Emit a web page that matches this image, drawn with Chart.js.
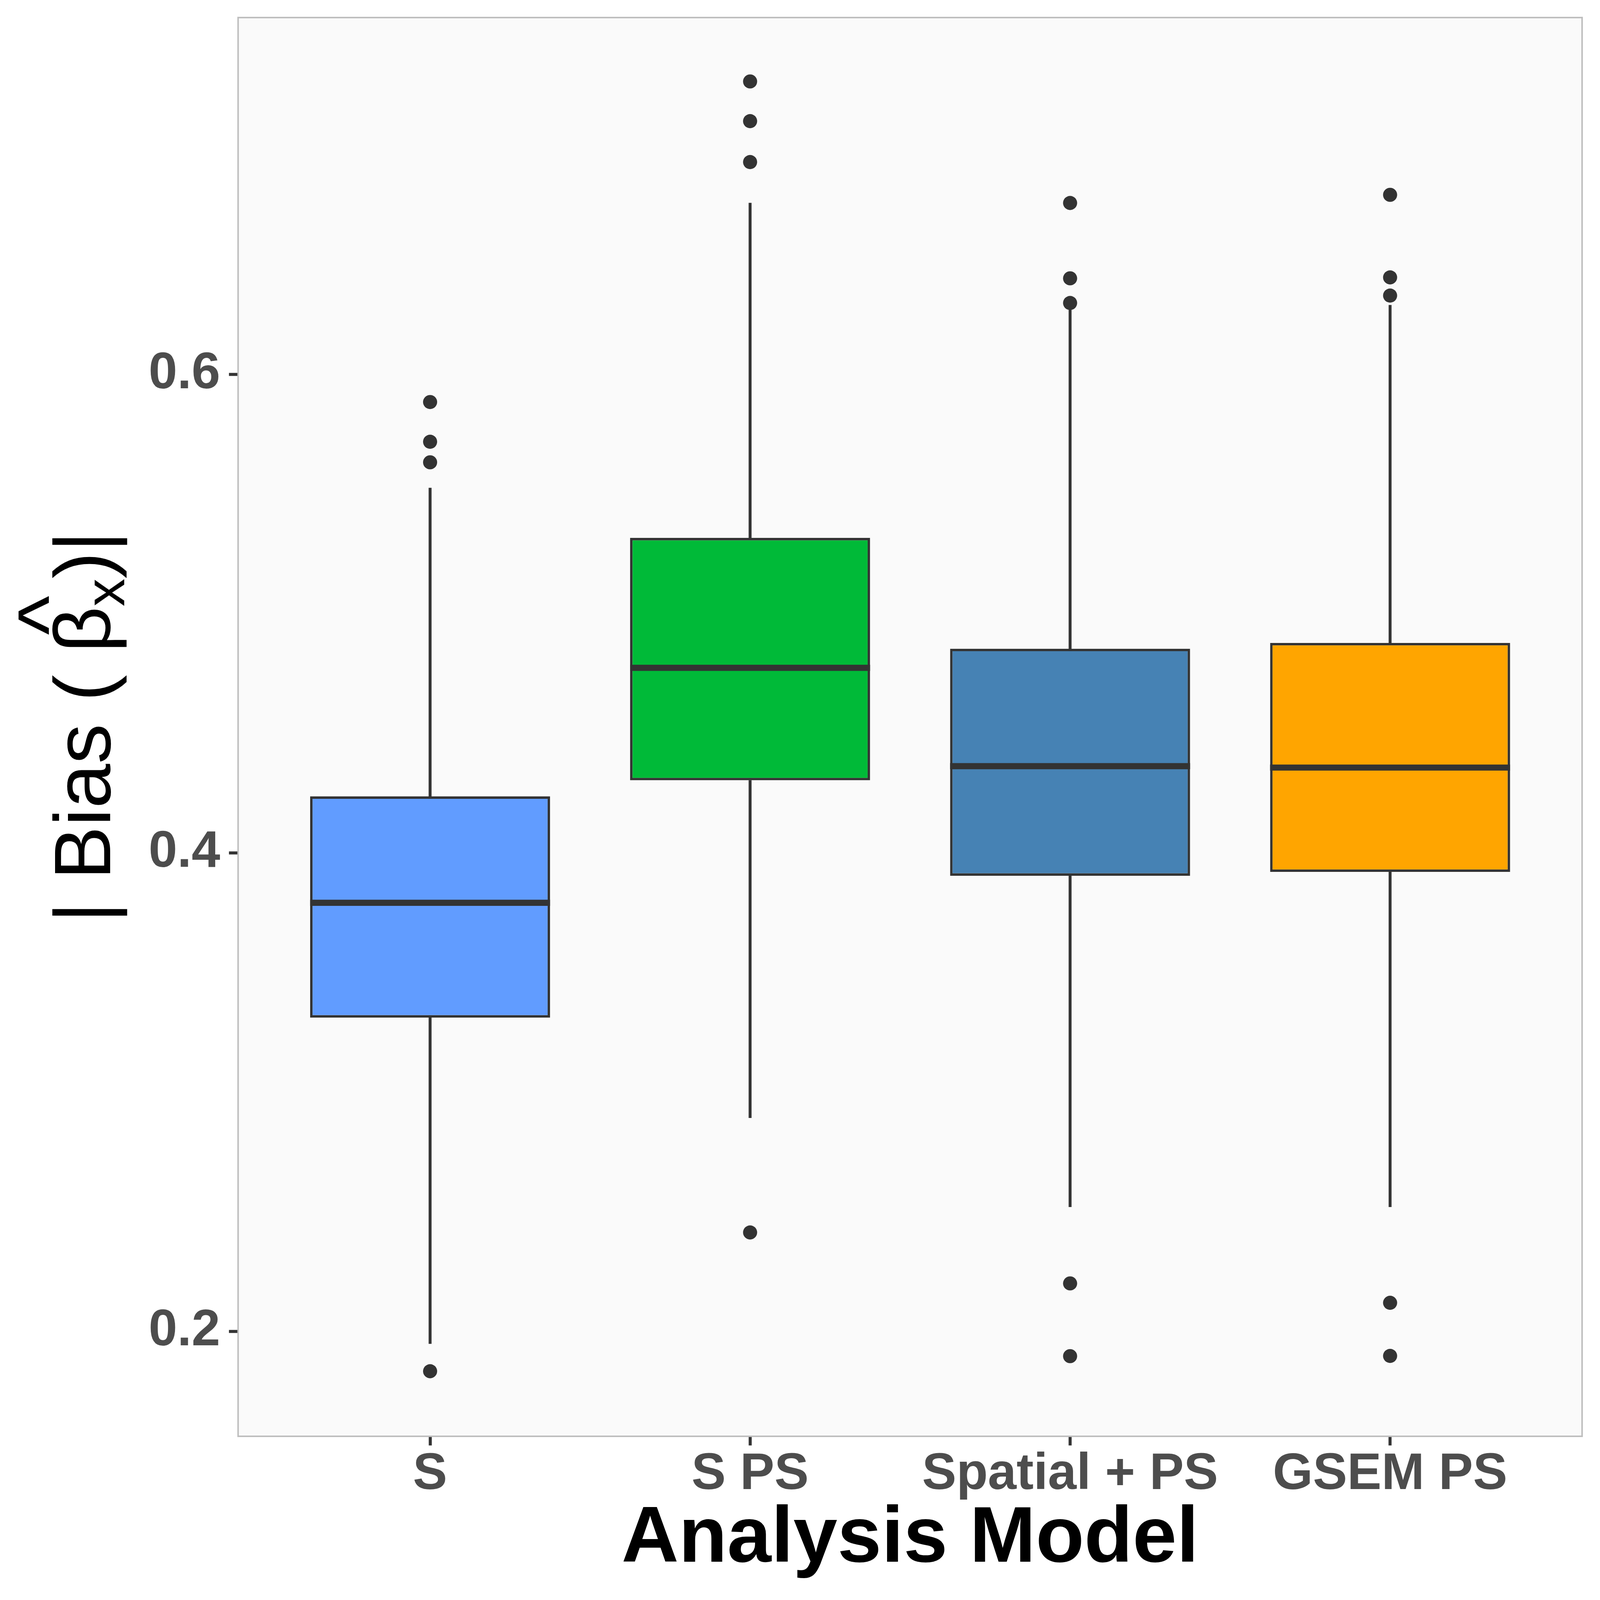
<!DOCTYPE html>
<html>
<head>
<meta charset="utf-8">
<script src="https://cdn.jsdelivr.net/npm/chart.js@4.4.1/dist/chart.umd.min.js"></script>
<style>
  html, body { margin: 0; padding: 0; background: #ffffff; overflow: hidden; }
</style>
</head>
<body>
<canvas id="boxChart"></canvas>
<script>
// kategori model analisis
const models = ['S', 'S PS', 'Spatial + PS', 'GSEM PS'];
const boxColors = ['#619CFF', '#00BA38', '#4682B4', '#FFA500'];

// ringkasan boxplot
const whiskerLow = [0.1948, 0.2892, 0.2520, 0.2520];
const q1Values   = [0.3311, 0.4303, 0.3904, 0.3920];
const medians    = [0.3791, 0.4773, 0.4362, 0.4356];
const q3Values   = [0.4236, 0.5316, 0.4853, 0.4877];
const whiskerHigh = [0.5525, 0.6716, 0.6281, 0.6289];

// titik pencilan per model
const outliers = [
  [0.5884, 0.5718, 0.5632, 0.1833],
  [0.7224, 0.7058, 0.6887, 0.2413],
  [0.6716, 0.6401, 0.6298, 0.2200, 0.1896],
  [0.6750, 0.6405, 0.6329, 0.2119, 0.1897]
];

const yTicks = [0.2, 0.4, 0.6];
const yMin = 0.1561, yMax = 0.7491;

// ukuran acuan 4200 x 4193; semua ukuran diskalakan ke viewport sebenarnya
const W = window.innerWidth || 4200;
const H = window.innerHeight || 4193;
const kx = W / 4200, ky = H / 4193, k = (kx + ky) / 2;
const sx = v => v * kx;
const sy = v => v * ky;
const sk = v => v * k;

const canvas = document.getElementById('boxChart');
canvas.width = W;
canvas.height = H;

// buang padding otomatis Chart.js supaya area plot persis di posisi yang diinginkan
function noPadding(s) {
  s.paddingLeft = 0; s.paddingRight = 0; s.paddingTop = 0; s.paddingBottom = 0;
}

// ---- plugin: latar panel, garis median, bingkai panel, judul sumbu y ----
const panelPlugin = {
  id: 'panel',
  beforeDatasetsDraw(chart) {
    const { ctx, chartArea: a } = chart;
    ctx.save();
    ctx.fillStyle = '#FAFAFA';
    ctx.fillRect(a.left, a.top, a.right - a.left, a.bottom - a.top);
    ctx.restore();
  },
  afterDatasetsDraw(chart) {
    const { ctx, chartArea: a } = chart;
    const xs = chart.scales.x, ys = chart.scales.y;
    ctx.save();
    // median
    ctx.strokeStyle = '#333333';
    ctx.lineWidth = sy(16);
    ctx.lineCap = 'butt';
    medians.forEach((m, i) => {
      const y = ys.getPixelForValue(m);
      ctx.beginPath();
      ctx.moveTo(xs.getPixelForValue(i + 1 - 0.375), y);
      ctx.lineTo(xs.getPixelForValue(i + 1 + 0.375), y);
      ctx.stroke();
    });
    // bingkai panel
    ctx.strokeStyle = '#BEBEBE';
    ctx.lineWidth = sk(4);
    ctx.strokeRect(a.left, a.top, a.right - a.left, a.bottom - a.top);
    ctx.restore();
  },
  afterDraw(chart) {
    const { ctx, chartArea: a } = chart;
    const cy = (a.top + a.bottom) / 2;
    const pre = '| Bias ( ', beta = '\u03B2', sub = 'x', post = ')|';
    const big = "210px 'Liberation Sans', Arial, sans-serif";
    const small = "146px 'Liberation Sans', Arial, sans-serif";
    ctx.save();
    ctx.translate(sx(289), cy);
    ctx.scale(kx, ky);
    ctx.rotate(-Math.PI / 2);
    ctx.fillStyle = '#000000';
    ctx.textAlign = 'left';
    ctx.textBaseline = 'alphabetic';
    ctx.font = big;
    const wPre = ctx.measureText(pre).width;
    const mBeta = ctx.measureText(beta);
    const wPost = ctx.measureText(post).width;
    ctx.font = small;
    const wSub = ctx.measureText(sub).width;
    const total = wPre + mBeta.width + wSub + wPost;
    let x = -total / 2;
    ctx.font = big;
    ctx.fillText(pre, x, 0);
    x += wPre;
    const betaX = x;
    ctx.fillText(beta, x, 0);
    x += mBeta.width;
    ctx.font = small;
    ctx.fillText(sub, x, 37);
    x += wSub;
    ctx.font = big;
    ctx.fillText(post, x, 0);
    // topi di atas beta
    const betaInkCenter = betaX + (mBeta.actualBoundingBoxRight - mBeta.actualBoundingBoxLeft) / 2;
    ctx.font = "220px 'Liberation Sans', Arial, sans-serif";
    const mHat = ctx.measureText('^');
    ctx.textAlign = 'center';
    ctx.fillText('^', betaInkCenter + 34, -161 - mHat.actualBoundingBoxDescent);
    ctx.restore();
  }
};

const tickFont = { family: "'Liberation Sans', Arial, sans-serif", size: sk(135), weight: 'bold' };

const boxData = models.map((m, i) => ({ x: i + 1, y: [q1Values[i], q3Values[i]] }));
const lowData = models.map((m, i) => ({ x: i + 1, y: [whiskerLow[i], q1Values[i]] }));
const highData = models.map((m, i) => ({ x: i + 1, y: [q3Values[i], whiskerHigh[i]] }));
const outlierData = [];
outliers.forEach((arr, i) => arr.forEach(v => outlierData.push({ x: i + 1, y: v })));

new Chart(canvas, {
  type: 'bar',
  data: {
    datasets: [
      { type: 'bar', data: lowData, grouped: false, barThickness: sx(7), backgroundColor: '#333333', borderWidth: 0, order: 3 },
      { type: 'bar', data: highData, grouped: false, barThickness: sx(7), backgroundColor: '#333333', borderWidth: 0, order: 3 },
      { type: 'bar', data: boxData, grouped: false, categoryPercentage: 1, barPercentage: 0.75,
        backgroundColor: boxColors, borderColor: '#333333', borderWidth: sk(6.5), borderSkipped: false, order: 2 },
      { type: 'scatter', data: outlierData, pointRadius: sk(18.5), pointBackgroundColor: '#333333',
        pointBorderWidth: 0, order: 1 }
    ]
  },
  options: {
    responsive: false,
    animation: false,
    events: [],
    layout: { padding: { left: 0, right: sx(47), top: sy(46), bottom: 0 } },
    plugins: { legend: { display: false }, tooltip: { enabled: false } },
    scales: {
      x: {
        type: 'linear',
        min: 0.4, max: 4.6,
        offset: false,
        afterBuildTicks: s => { s.ticks = models.map((m, i) => ({ value: i + 1 })); },
        afterFit: s => { s.height = sy(429); noPadding(s); },
        ticks: {
          callback: v => models[v - 1] || '',
          font: tickFont, color: '#4D4D4D', padding: sy(-4),
          autoSkip: false, maxRotation: 0, minRotation: 0
        },
        grid: { offset: false, drawOnChartArea: false, drawTicks: true, tickLength: sy(24), tickWidth: sx(8), tickColor: '#333333' },
        border: { display: false },
        title: {
          display: true, text: 'Analysis Model', color: '#000000',
          font: { family: "'Liberation Sans', Arial, sans-serif", size: sk(208), weight: 'bold' },
          padding: { top: 0, bottom: sy(33) }
        }
      },
      y: {
        type: 'linear',
        min: yMin, max: yMax,
        beginAtZero: false,
        afterBuildTicks: s => { s.ticks = yTicks.map(v => ({ value: v })); },
        afterFit: s => { s.width = sx(625); noPadding(s); },
        ticks: { callback: v => v.toFixed(1), font: tickFont, color: '#4D4D4D', padding: sx(23) },
        grid: { drawOnChartArea: false, drawTicks: true, tickLength: sx(24), tickWidth: sy(8), tickColor: '#333333' },
        border: { display: false }
      }
    }
  },
  plugins: [panelPlugin]
});
</script>
</body>
</html>
